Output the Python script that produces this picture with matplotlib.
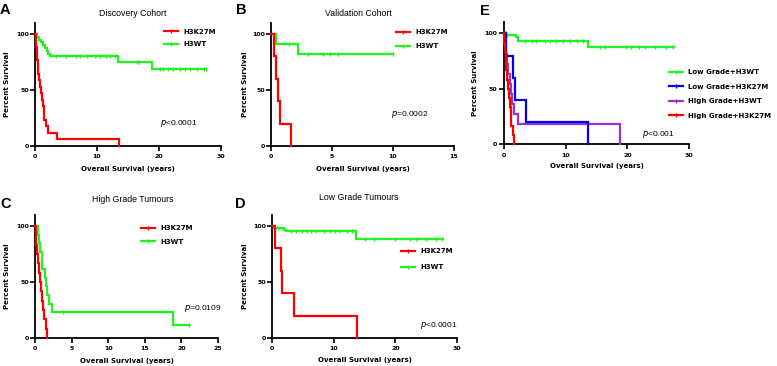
import numpy as np
import matplotlib
matplotlib.use("Agg")
import matplotlib.pyplot as plt
from matplotlib.lines import Line2D

W, H = 777, 366
RED, GREEN, BLUE, PURPLE = "#ff0000", "#22f222", "#0000ee", "#9933cc"

# ---------------- data ----------------
# Panel A: Discovery Cohort
a_k27m_t = [0.1, 0.2, 0.3, 0.4, 0.5, 0.55, 0.7, 0.85, 1.0, 1.15, 1.3, 1.4, 1.5, 1.8, 2.1, 3.5, 13.6]
a_k27m_s = [94.1, 88.2, 82.4, 76.5, 70.6, 64.7, 58.8, 52.9, 47.1, 41.2, 35.3, 29.4, 23.5, 17.6, 11.8, 5.9, 0]
a_k27m_end = 13.6
a_k27m_c = []
a_wt_t = [0.3, 0.6, 1.0, 1.3, 1.6, 1.9, 2.1, 2.4, 13.4, 18.8]
a_wt_s = [97.5, 95.0, 92.5, 90.0, 87.5, 85.0, 82.5, 80.0, 75.0, 69.0]
a_wt_end = 27.6
a_wt_c = [3.4, 5.0, 6.6, 7.3, 8.4, 9.6, 10.5, 11.4, 12.1, 12.9, 16.4, 16.8,
          20.1, 20.7, 21.5, 22.3, 23.4, 24.2, 25.0, 26.1, 27.2, 27.6]

# Panel B: Validation Cohort
b_k27m_t = [0.27, 0.44, 0.6, 0.76, 1.63]
b_k27m_s = [80, 60, 40, 20, 0]
b_k27m_end = 1.63
b_k27m_c = []
b_wt_t = [0.4, 2.2]
b_wt_s = [90.9, 81.8]
b_wt_end = 10.0
b_wt_c = [1.5, 3.0, 4.3, 4.85, 5.5, 10.0]

# Panel C: High Grade Tumours
c_k27m_t = [0.1, 0.2, 0.3, 0.4, 0.5, 0.65, 0.8, 0.95, 1.1, 1.25, 1.45, 1.7]
c_k27m_s = [91.7, 83.3, 75.0, 66.7, 58.3, 50.0, 41.7, 33.3, 25.0, 16.7, 8.3, 0]
c_k27m_end = 1.7
c_k27m_c = []
c_wt_t = [0.35, 0.5, 0.65, 0.9, 1.0, 1.3, 1.5, 1.7, 1.95, 2.3, 18.9]
c_wt_s = [92.3, 84.6, 76.9, 69.2, 61.5, 53.8, 46.2, 38.5, 30.8, 23.1, 11.5]
c_wt_end = 21.0
c_wt_c = [3.8, 21.0]

# Panel D: Low Grade Tumours
d_k27m_t = [0.54, 1.4, 1.7, 3.5, 13.8]
d_k27m_s = [80, 60, 40, 20, 0]
d_k27m_end = 13.8
d_k27m_c = []
d_wt_t = [0.4, 2.0, 2.3, 13.7]
d_wt_s = [98.4, 96.8, 95.2, 88.0]
d_wt_end = 27.7
d_wt_c = [1.0, 1.5, 3.1, 3.9, 4.8, 5.6, 6.4, 7.2, 8.5, 9.4, 10.2, 11.0, 12.1, 12.9,
          15.0, 16.6, 19.9, 22.3, 23.4, 25.0, 26.6, 27.6]

# Panel E: grade + H3 status
e_lgwt_t = [0.4, 2.0, 2.3, 13.6]
e_lgwt_s = [98.4, 96.8, 93.3, 88.0]
e_lgwt_end = 27.5
e_lgwt_c = [0.2, 0.6, 3.4, 4.5, 5.3, 6.7, 7.5, 8.5, 9.6, 10.7, 11.8, 12.8,
            15.5, 16.3, 19.8, 20.6, 21.9, 22.8, 24.4, 26.3, 27.4]
e_lgk27m_t = [0.4, 1.45, 1.9, 3.6, 13.6]
e_lgk27m_s = [80, 60, 40, 20, 0]
e_lgk27m_end = 13.6
e_lgk27m_c = []
e_hgwt_t = [0.2, 0.35, 0.5, 0.64, 1.0, 1.2, 1.4, 1.7, 2.35, 18.8]
e_hgwt_s = [90.9, 81.8, 72.7, 63.6, 54.5, 45.5, 36.4, 27.3, 18.2, 0]
e_hgwt_end = 18.8
e_hgwt_c = []
e_hgk27m_t = [0.1, 0.2, 0.3, 0.4, 0.5, 0.65, 0.8, 0.95, 1.1, 1.25, 1.45, 1.7]
e_hgk27m_s = [91.7, 83.3, 75.0, 66.7, 58.3, 50.0, 41.7, 33.3, 25.0, 16.7, 8.3, 0]
e_hgk27m_end = 1.7
e_hgk27m_c = []

two_labels = ["H3K27M", "H3WT"]
e_labels = ["Low Grade+H3WT", "Low Grade+H3K27M", "High Grade+H3WT", "High Grade+H3K27M"]

titles = ["Discovery Cohort", "Validation Cohort", "High Grade Tumours", "Low Grade Tumours"]
pvals = ["<0.0001", "=0.0002", "=0.0109", "<0.0001", "<0.001"]

# ---------------- drawing ----------------
fig = plt.figure(figsize=(W / 100, H / 100), dpi=100)
fig.patch.set_facecolor("white")

TICKFONT = dict(family="DejaVu Sans", weight="bold", size=4.5)
LABFONT = dict(family="DejaVu Sans", weight="bold", size=5)


def make_ax(left, right, y0px, y100px, xmax, xticks):
    per = (y0px - y100px) / 100.0
    top = y0px - per * 110
    ax = fig.add_axes([left / W, 1 - y0px / H, (right - left) / W, (y0px - top) / H])
    ax.set_xlim(0, xmax)
    ax.set_ylim(0, 110)
    ax.set_xticks(xticks)
    ax.set_yticks([0, 50, 100])
    for s in ["top", "right"]:
        ax.spines[s].set_visible(False)
    for s in ["left", "bottom"]:
        ax.spines[s].set_linewidth(1.3)
    ax.tick_params(axis="both", direction="out", length=3.5, width=1.2)
    ax.tick_params(axis="x", pad=2.5)
    ax.tick_params(axis="y", pad=1.0)
    for lab in ax.get_xticklabels() + ax.get_yticklabels():
        lab.set_fontproperties(matplotlib.font_manager.FontProperties(**TICKFONT))
    ax.patch.set_alpha(0)
    return ax


def km(ax, t, s, end, cens, color, z=3):
    x = [0] + list(t)
    y = [100] + list(s)
    if end > x[-1]:
        x.append(end)
        y.append(y[-1])
    ax.step(x, y, where="post", color=color, lw=1.6, clip_on=False, zorder=z,
            solid_joinstyle="miter")
    if cens:
        tt = np.array(t)
        ss = np.array([100] + list(s))
        cy = [ss[np.searchsorted(tt, c, side="right")] for c in cens]
        ax.plot(cens, cy, ls="none", marker="|", ms=3.2, mew=1.0, color=color,
                clip_on=False, zorder=z)


def labels(ax, xlab_px_below, ylab_px_left, ax_w, ax_h):
    ax.set_xlabel("Overall Survival (years)", **LABFONT)
    ax.set_ylabel("Percent Survival", **LABFONT)
    ax.xaxis.set_label_coords(0.5, -xlab_px_below / ax_h)
    ax.yaxis.set_label_coords(-ylab_px_left / ax_w, 0.5)


def legend(ax, handles, labs, x_px, y_px, spacing=1.0):
    ax.legend(handles, labs, loc="upper left", bbox_to_anchor=(x_px / W, 1 - y_px / H),
              bbox_transform=fig.transFigure, frameon=False, borderpad=0, borderaxespad=0,
              handlelength=2.0, handletextpad=0.8, labelspacing=spacing,
              prop=dict(family="DejaVu Sans", weight="bold", size=5))


def handle(color):
    return Line2D([], [], color=color, lw=1.6, marker="|", ms=3.2, mew=1.0)


def pval(ax, x_px, y_px, txt):
    fig.text(x_px / W, 1 - y_px / H, "$p$" + txt, family="Liberation Sans", size=6,
             va="center", ha="left")


# Panel A
axA = make_ax(35, 221, 146, 34, 30, [0, 10, 20, 30])
km(axA, a_wt_t, a_wt_s, a_wt_end, a_wt_c, GREEN)
km(axA, a_k27m_t, a_k27m_s, a_k27m_end, a_k27m_c, RED, z=4)
labels(axA, 20, 25, 186, 123)
legend(axA, [handle(RED), handle(GREEN)], two_labels, 164, 28.5, spacing=0.98)
pval(axA, 160, 123, pvals[0])

# Panel B
axB = make_ax(271, 454, 146, 34, 15, [0, 5, 10, 15])
km(axB, b_wt_t, b_wt_s, b_wt_end, b_wt_c, GREEN)
km(axB, b_k27m_t, b_k27m_s, b_k27m_end, b_k27m_c, RED, z=4)
labels(axB, 20, 23, 183, 123)
legend(axB, [handle(RED), handle(GREEN)], two_labels, 396, 29.5, spacing=1.1)
pval(axB, 391, 115, pvals[1])

# Panel C
axC = make_ax(35, 218, 338, 226, 25, [0, 5, 10, 15, 20, 25])
km(axC, c_wt_t, c_wt_s, c_wt_end, c_wt_c, GREEN)
km(axC, c_k27m_t, c_k27m_s, c_k27m_end, c_k27m_c, RED, z=4)
labels(axC, 20, 25, 183, 123)
legend(axC, [handle(RED), handle(GREEN)], two_labels, 141, 225.5, spacing=1.04)
pval(axC, 184, 308, pvals[2])

# Panel D
axD = make_ax(272, 457, 338, 226, 30, [0, 10, 20, 30])
km(axD, d_wt_t, d_wt_s, d_wt_end, d_wt_c, GREEN)
km(axD, d_k27m_t, d_k27m_s, d_k27m_end, d_k27m_c, RED, z=4)
labels(axD, 19, 24, 185, 123)
legend(axD, [handle(RED), handle(GREEN)], two_labels, 401, 248, spacing=1.43)
pval(axD, 420, 325.5, pvals[3])

# Panel E
axE = make_ax(503.7, 689.3, 144.3, 33.3, 30, [0, 10, 20, 30])
km(axE, e_lgwt_t, e_lgwt_s, e_lgwt_end, e_lgwt_c, GREEN)
km(axE, e_hgwt_t, e_hgwt_s, e_hgwt_end, e_hgwt_c, PURPLE, z=4)
km(axE, e_lgk27m_t, e_lgk27m_s, e_lgk27m_end, e_lgk27m_c, BLUE, z=5)
km(axE, e_hgk27m_t, e_hgk27m_s, e_hgk27m_end, e_hgk27m_c, RED, z=6)
labels(axE, 19, 25.5, 185.6, 122)
legend(axE, [handle(GREEN), handle(BLUE), handle(PURPLE), handle(RED)], e_labels, 669, 69,
       spacing=1.24)
pval(axE, 642, 134, pvals[4])

# titles
TF = dict(family="Liberation Sans", size=6.3, ha="center", va="center")
fig.text(133 / W, 1 - 14 / H, titles[0], **TF)
fig.text(358 / W, 1 - 14 / H, titles[1], **TF)
fig.text(133 / W, 1 - 199 / H, titles[2], **TF)
fig.text(359 / W, 1 - 197 / H, titles[3], **TF)

# panel letters
LF = dict(family="Liberation Sans", weight="bold", size=10.5, ha="left", va="baseline")
fig.text(0 / W, 1 - 14 / H, "A", **LF)
fig.text(236 / W, 1 - 14 / H, "B", **LF)
fig.text(480 / W, 1 - 15 / H, "E", **LF)
fig.text(0 / W, 1 - 208 / H, "C", **LF)
fig.text(235 / W, 1 - 208 / H, "D", **LF)

fig.savefig("out.png", dpi=100, facecolor="white")
